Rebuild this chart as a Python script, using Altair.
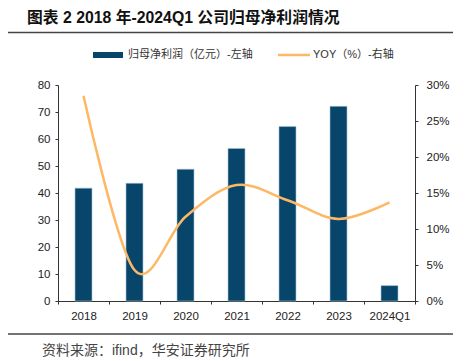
import altair as alt
import pandas as pd

years = ["2018", "2019", "2020", "2021", "2022", "2023", "2024Q1"]
profit = [41.8, 43.6, 48.8, 56.5, 64.6, 72.1, 5.7]
yoy = [0.285, 0.043, 0.117, 0.161, 0.140, 0.114, 0.137]

title_text = "图表 2 2018 年-2024Q1 公司归母净利润情况"
legend_bar = "归母净利润（亿元）-左轴"
legend_line = "YOY（%）-右轴"
source_text = "资料来源：ifind，华安证券研究所"

df = pd.DataFrame({"year": years, "profit": profit, "yoy": yoy})

NAVY = "#07456a"
ORANGE = "#fdb865"
AX = "#333333"
FONT = "Liberation Sans"
MIX = "Liberation Sans, Noto Sans CJK SC"

x_enc = alt.X(
    "year:N", sort=years,
    scale=alt.Scale(paddingInner=0, paddingOuter=0),
    axis=alt.Axis(title=None, labelAngle=0, tickBand="extent", domainColor=AX,
                  tickColor=AX, tickSize=3, labelFont=FONT, labelFontSize=11.5,
                  labelColor="#222222", labelPadding=6, grid=False),
)

bars = alt.Chart(df).mark_bar(size=17, color=NAVY, stroke="#a7c2d6", strokeWidth=0.6).encode(
    x=x_enc,
    y=alt.Y("profit:Q", scale=alt.Scale(domain=[0, 80], nice=False),
            axis=alt.Axis(title=None, orient="left", values=list(range(0, 81, 10)),
                          domainColor=AX, tickColor=AX, tickSize=3, labelFont=FONT,
                          labelFontSize=11.5, labelColor="#222222", labelPadding=5, grid=False)),
)

line = alt.Chart(df).mark_line(color=ORANGE, strokeWidth=2.5, interpolate="cardinal").encode(
    x=x_enc,
    y=alt.Y("yoy:Q", scale=alt.Scale(domain=[0, 0.3], nice=False),
            axis=alt.Axis(title=None, orient="right", format=".0%",
                          values=[0, 0.05, 0.10, 0.15, 0.20, 0.25, 0.30],
                          domainColor=AX, tickColor=AX, tickSize=3, labelFont=FONT,
                          labelFontSize=11.5, labelColor="#222222", labelPadding=8, grid=False)),
)

def txt(s, x, y, size, color="#222222", weight="normal", font=MIX):
    return alt.Chart(pd.DataFrame({"t": [s]})).mark_text(
        align="left", baseline="middle", fontSize=size, color=color,
        fontWeight=weight, font=font,
    ).encode(text="t:N", x=alt.value(x), y=alt.value(y))

one = pd.DataFrame({"k": [0]})

title = txt(title_text, -31, -67, 15.8, "#111111", "bold")
top_rule = alt.Chart(one).mark_rule(color="#444444", strokeWidth=1.3).encode(
    x=alt.value(-50), x2=alt.value(395), y=alt.value(-52.5))
bot_rule = alt.Chart(one).mark_rule(color="#444444", strokeWidth=1.3).encode(
    x=alt.value(-50), x2=alt.value(395), y=alt.value(249))
leg_rect = alt.Chart(one).mark_rect(color=NAVY).encode(
    x=alt.value(35), x2=alt.value(65), y=alt.value(-33), y2=alt.value(-27))
leg_bar_t = txt(legend_bar, 70, -30, 11, "#333333")
leg_line = alt.Chart(one).mark_rule(color=ORANGE, strokeWidth=2.5).encode(
    x=alt.value(220), x2=alt.value(252), y=alt.value(-30))
leg_line_t = txt(legend_line, 255, -30, 11, "#333333")
source = txt(source_text, -16, 266, 14, "#444444")

chart = alt.layer(
    bars, line, title, top_rule, bot_rule, leg_rect, leg_bar_t, leg_line, leg_line_t, source
).resolve_scale(y="independent").properties(
    width=357, height=216,
    autosize=alt.AutoSizeParams(type="none"),
    padding={"left": 50, "top": 77, "right": 40, "bottom": 59},
).configure_view(stroke=None)

chart.save("out.html", embed_options={"renderer": "svg", "actions": False})
